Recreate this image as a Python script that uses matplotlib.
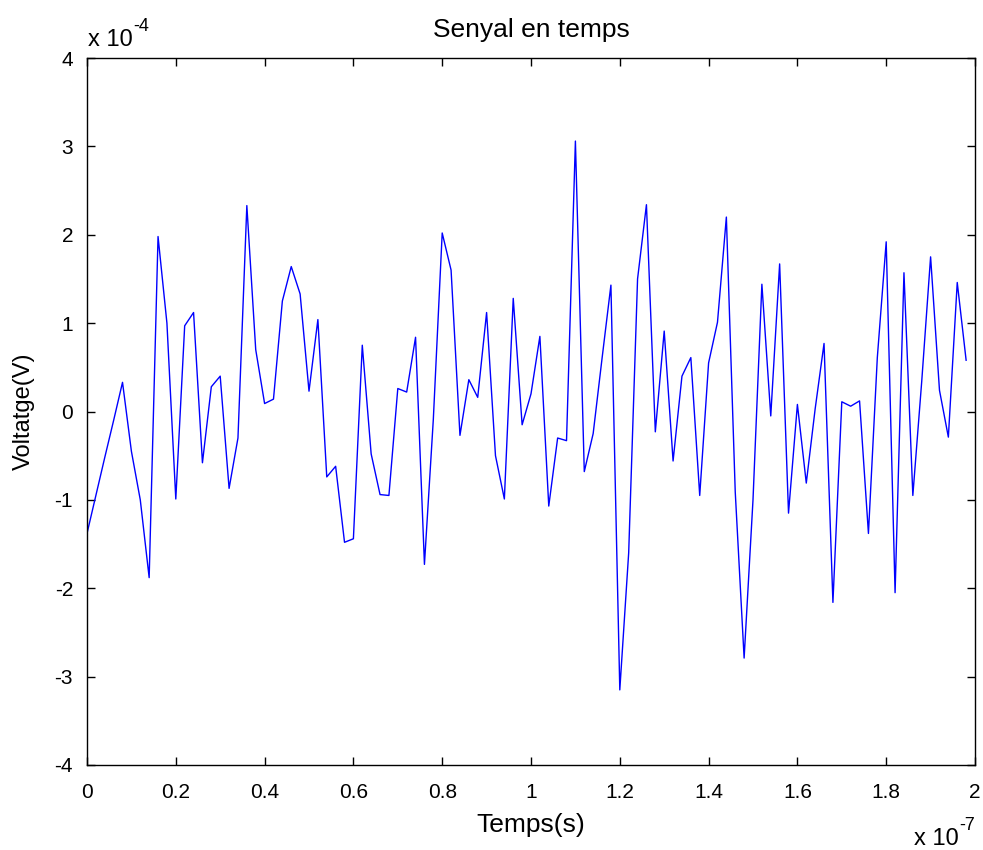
import numpy as np
import matplotlib
matplotlib.use("Agg")
import matplotlib.pyplot as plt

# ---- data (time in units of 1e-7 s, voltage in units of 1e-4 V) ----
time_step = 0.02          # x 1e-7 s  (2 ns)
voltage_e4 = [
    -1.38, -0.95, -0.52, -0.10, 0.33, -0.45, -1.00, -1.88, 1.98, 1.00,
    -0.99, 0.97, 1.12, -0.58, 0.28, 0.40, -0.87, -0.30, 2.33, 0.70,
    0.09, 0.14, 1.25, 1.64, 1.33, 0.23, 1.04, -0.74, -0.62, -1.48,
    -1.44, 0.75, -0.48, -0.94, -0.95, 0.26, 0.22, 0.84, -1.73, -0.09,
    2.02, 1.60, -0.27, 0.36, 0.16, 1.12, -0.50, -0.99, 1.28, -0.15,
    0.20, 0.85, -1.07, -0.30, -0.33, 3.06, -0.68, -0.25, 0.60, 1.43,
    -3.15, -1.60, 1.50, 2.34, -0.23, 0.91, -0.56, 0.40, 0.61, -0.95,
    0.55, 1.01, 2.20, -0.91, -2.79, -1.00, 1.44, -0.05, 1.67, -1.15,
    0.08, -0.81, 0.03, 0.77, -2.16, 0.11, 0.06, 0.12, -1.38, 0.61,
    1.92, -2.05, 1.57, -0.95, 0.34, 1.75, 0.24, -0.29, 1.46, 0.58,
]
time_e7 = np.arange(len(voltage_e4)) * time_step

x_ticks = [0, 0.2, 0.4, 0.6, 0.8, 1.0, 1.2, 1.4, 1.6, 1.8, 2.0]
x_ticklabels = ["0", "0.2", "0.4", "0.6", "0.8", "1", "1.2", "1.4", "1.6", "1.8", "2"]
y_ticks = [-4, -3, -2, -1, 0, 1, 2, 3, 4]
y_ticklabels = ["-4", "-3", "-2", "-1", "0", "1", "2", "3", "4"]

title = "Senyal en temps"
xlabel = "Temps(s)"
ylabel = "Voltatge(V)"
y_exponent = "-4"
x_exponent = "-7"

plt.rcParams["font.family"] = ["Liberation Sans", "DejaVu Sans"]

W, H = 983, 850
fig = plt.figure(figsize=(W / 100, H / 100), dpi=100, facecolor="white")
left, right, top, bottom = 87, 975, 58, 765
ax = fig.add_axes([left / W, 1 - bottom / H, (right - left) / W, (bottom - top) / H])

ax.plot(time_e7, voltage_e4, color=(0, 0, 1), linewidth=1.0)

ax.set_xlim(0, 2)
ax.set_ylim(-4, 4)
ax.set_xticks(x_ticks)
ax.set_xticklabels(x_ticklabels)
ax.set_yticks(y_ticks)
ax.set_yticklabels(y_ticklabels)

ax.tick_params(direction="in", length=6, width=1, top=True, right=True,
               labelsize=15, colors="black")
ax.tick_params(axis="x", pad=13)
ax.tick_params(axis="y", pad=10)
for s in ax.spines.values():
    s.set_linewidth(1.0)
    s.set_color("black")

ax.set_title(title, fontsize=19, pad=15)
ax.set_xlabel(xlabel, fontsize=19, labelpad=8)
ax.set_ylabel(ylabel, fontsize=17, labelpad=14)

# MATLAB-style exponent annotations ("x 10" with raised exponent)
def exponent_label(x_px, base_px, exp_text, anchor="left"):
    base = fig.text(x_px / W, 1 - base_px / H, "x 10", fontsize=17,
                    ha="left", va="baseline")
    fig.canvas.draw()
    bb = base.get_window_extent()
    sup = fig.text(bb.x1 / W + 1 / W, 1 - (base_px - 15) / H, exp_text,
                   fontsize=13, ha="left", va="baseline")
    if anchor == "right":
        fig.canvas.draw()
        sb = sup.get_window_extent()
        shift = (sb.x1 - x_px) / W
        bx, by = base.get_position()
        base.set_position((bx - shift, by))
        sx, sy = sup.get_position()
        sup.set_position((sx - shift, sy))

exponent_label(88, 46, y_exponent)
exponent_label(975, 845, x_exponent, anchor="right")

fig.savefig("out.png", dpi=100, facecolor="white")
